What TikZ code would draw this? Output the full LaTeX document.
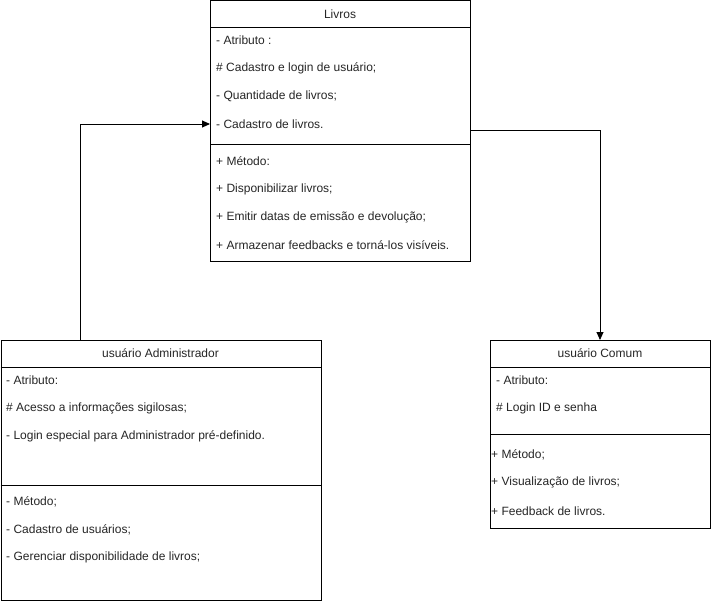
\documentclass[tikz,border=0pt]{standalone}
\usepackage{fontspec}
\setmainfont{Liberation Sans}
\usetikzlibrary{arrows.meta}
\begin{document}
\begin{tikzpicture}[x=1pt,y=-1pt,
  classbox/.style={draw=black,line width=0.9pt,fill=white},
  txt/.style={anchor=west,inner sep=0pt,font=\fontsize{12}{14}\selectfont,text=black!85},
  ttl/.style={anchor=center,inner sep=0pt,font=\fontsize{12}{14}\selectfont,text=black!85},
  conn/.style={draw=black,line width=0.9pt,-{Triangle[length=8pt,width=7pt]}}]
\useasboundingbox (0,0) rectangle (711,604);

% Livros
\node[classbox,minimum width=260pt,minimum height=260pt,inner sep=0pt,anchor=north west] (livros) at (210,0.5) {};
\draw[line width=0.9pt] (210,27) -- (470,27);
\draw[line width=0.9pt] (210,144) -- (470,144);
\node[ttl] (livrosT) at (340,14) {Livros};
\node[txt] (l1) at (216,40.5) {- Atributo :};
\node[txt] (l2) at (216,68.5) {\# Cadastro e login de usuário;};
\node[txt] (l3) at (216,96.5) {- Quantidade de livros;};
\node[txt] (l4) at (216,124.5) {- Cadastro de livros.};
\node[txt] (l5) at (216,161.5) {+ Método:};
\node[txt] (l6) at (216,189.5) {+ Disponibilizar livros;};
\node[txt] (l7) at (216,217.5) {+ Emitir datas de emissão e devolução;};
\node[txt] (l8) at (216,245.5) {+ Armazenar feedbacks e torná-los visíveis.};

% usuário Administrador
\node[classbox,minimum width=320pt,minimum height=260pt,inner sep=0pt,anchor=north west] (admin) at (0.5,340) {};
\draw[line width=0.9pt] (0.5,367) -- (320.5,367);
\draw[line width=0.9pt] (0.5,485) -- (320.5,485);
\node[ttl] (adminT) at (160.5,353.5) {usuário Administrador};
\node[txt] (a1) at (6,380.5) {- Atributo:};
\node[txt] (a2) at (6,408.5) {\# Acesso a informações sigilosas;};
\node[txt] (a3) at (6,436.5) {- Login especial para Administrador pré-definido.};
\node[txt] (a4) at (6,501.5) {- Método;};
\node[txt] (a5) at (6,529.5) {- Cadastro de usuários;};
\node[txt] (a6) at (6,557.5) {- Gerenciar disponibilidade de livros;};

% usuário Comum
\node[classbox,minimum width=220pt,minimum height=188pt,inner sep=0pt,anchor=north west] (comum) at (490,340) {};
\draw[line width=0.9pt] (490,367) -- (710,367);
\draw[line width=0.9pt] (490,434) -- (710,434);
\node[ttl] (comumT) at (600,353.5) {usuário Comum};
\node[txt] (c1) at (496,380.5) {- Atributo:};
\node[txt] (c2) at (496,408.5) {\# Login ID e senha};
\node[txt] (c3) at (491,454.5) {+ Método;};
\node[txt] (c4) at (491,482.5) {+ Visualização de livros;};
\node[txt] (c5) at (491,511) {+ Feedback de livros.};

% connectors
\coordinate (adminTop) at (80,340);
\coordinate (livrosIn) at (210,124);
\draw[conn] (adminTop) |- (livrosIn);
\coordinate (livrosOut) at (470,130);
\coordinate (comumTop) at (600,340);
\draw[conn] (livrosOut) -| (comumTop);
\end{tikzpicture}
\end{document}
